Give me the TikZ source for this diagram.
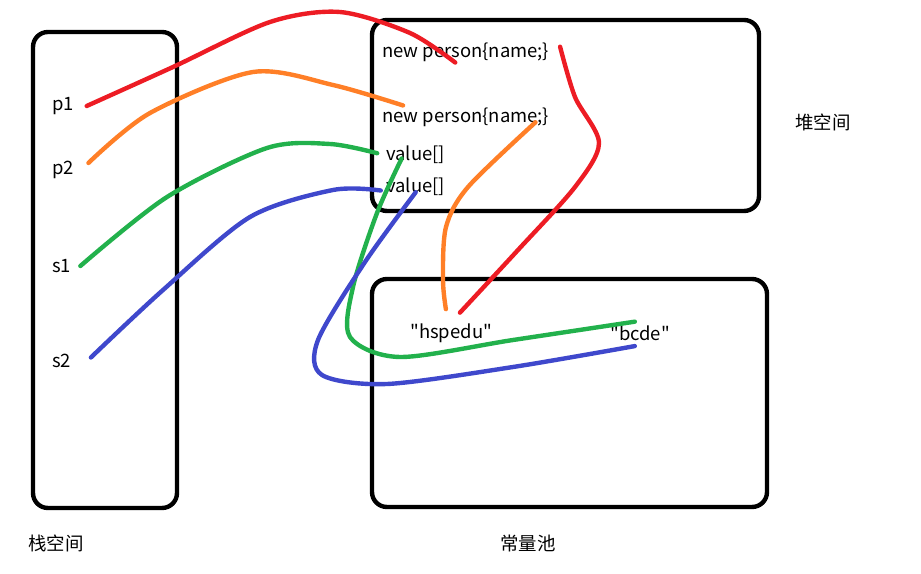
\documentclass[tikz,border=0pt]{standalone}
\usepackage{fontspec}
\newfontfamily\yahei{Noto Sans CJK SC}
\definecolor{penred}{HTML}{ED1C24}
\definecolor{penorange}{HTML}{FF7F27}
\definecolor{pengreen}{HTML}{22B14C}
\definecolor{penblue}{HTML}{3F48CC}

\begin{document}
\begin{tikzpicture}[x=0.02cm, y=-0.02cm,
		box/.style={line width=2.5pt, rounded corners=8.5pt},
		txt/.style={anchor=west, inner sep=0pt, font=\yahei\fontsize{10.5}{12}\selectfont},
		pen/.style={line width=2.5pt, line cap=round, line join=round}]
			\useasboundingbox (0,0) rectangle (921,574);

			% the three memory areas
			\draw [box] (33,32) rectangle (177,508);
			\draw [box] (372,20) rectangle (759,211);
			\draw [box] (372,279) rectangle (767,507);

			% stack
			\node [txt] (p1) at (52,106) {p1};
			\node [txt] (p2) at (52,170) {p2};
			\node [txt] (s1) at (52,266) {s1};
			\node [txt] (s2) at (52,361) {s2};

			% heap
			\node [txt] (obj1) at (382,52) {new person\{name;\}};
			\node [txt] (obj2) at (382,117) {new person\{name;\}};
			\node [txt] (val1) at (386,155) {value[]};
			\node [txt] (val2) at (386,187) {value[]};

			% constant pool
			\node [txt] (str1) at (410,333) {"hspedu"};
			\node [txt] (str2) at (610,333) {"bcde"};

			% area names
			\node [txt] (stack) at (28,543) {栈空间};
			\node [txt] (pool) at (500,543) {常量池};
			\node [txt] (heap) at (795,122) {堆空间};

			% p1
			\draw [pen, penred] plot [smooth] coordinates {([xshift=7pt]p1.east) (173,67) (270,22) (340,12) (410,33) ([xshift=-6pt,yshift=-6pt]obj1.center)};
			\draw [pen, penred] plot [smooth] coordinates {([xshift=6pt,yshift=3pt]obj1.east) (575,97) (599,143) (575,187) (518,250) ([xshift=5pt,yshift=6pt]str1.north)};

			% p2
			\draw [pen, penorange] plot [smooth] coordinates {([xshift=8pt,yshift=4pt]p2.east) (150,113) (253,72) (333,85) ([xshift=12pt,yshift=1pt]obj2.north west)};
			\draw [pen, penorange] plot [smooth] coordinates {([xshift=-8pt,yshift=-3pt]obj2.east) (468,187) (446,227) (443,280) ([xshift=-3pt,yshift=8pt]str1.north)};

			% s1
			\draw [pen, pengreen] plot [smooth] coordinates {([xshift=5pt]s1.east) (167,197) (267,148) (330,144) ([xshift=-5pt,yshift=1pt]val1.west)};
			\draw [pen, pengreen] plot [smooth] coordinates {([xshift=-8pt,yshift=-2pt]val1.center) (377,213) (353,287) (350,337) (400,357) (513,340) ([xshift=-3pt,yshift=2pt]str2.north)};

			% s2
			\draw [pen, penblue] plot [smooth] coordinates {([xshift=11pt,yshift=2pt]s2.east) (163,290) (250,217) (333,190) ([xshift=-3pt,yshift=-2pt]val2.west)};
			\draw [pen, penblue] plot [smooth] coordinates {([yshift=-3pt]val2.center) (365,262) (318,340) (322,375) (387,384) (513,367) ([xshift=-3pt,yshift=-3pt]str2.south)};
		\end{tikzpicture}
\end{document}
